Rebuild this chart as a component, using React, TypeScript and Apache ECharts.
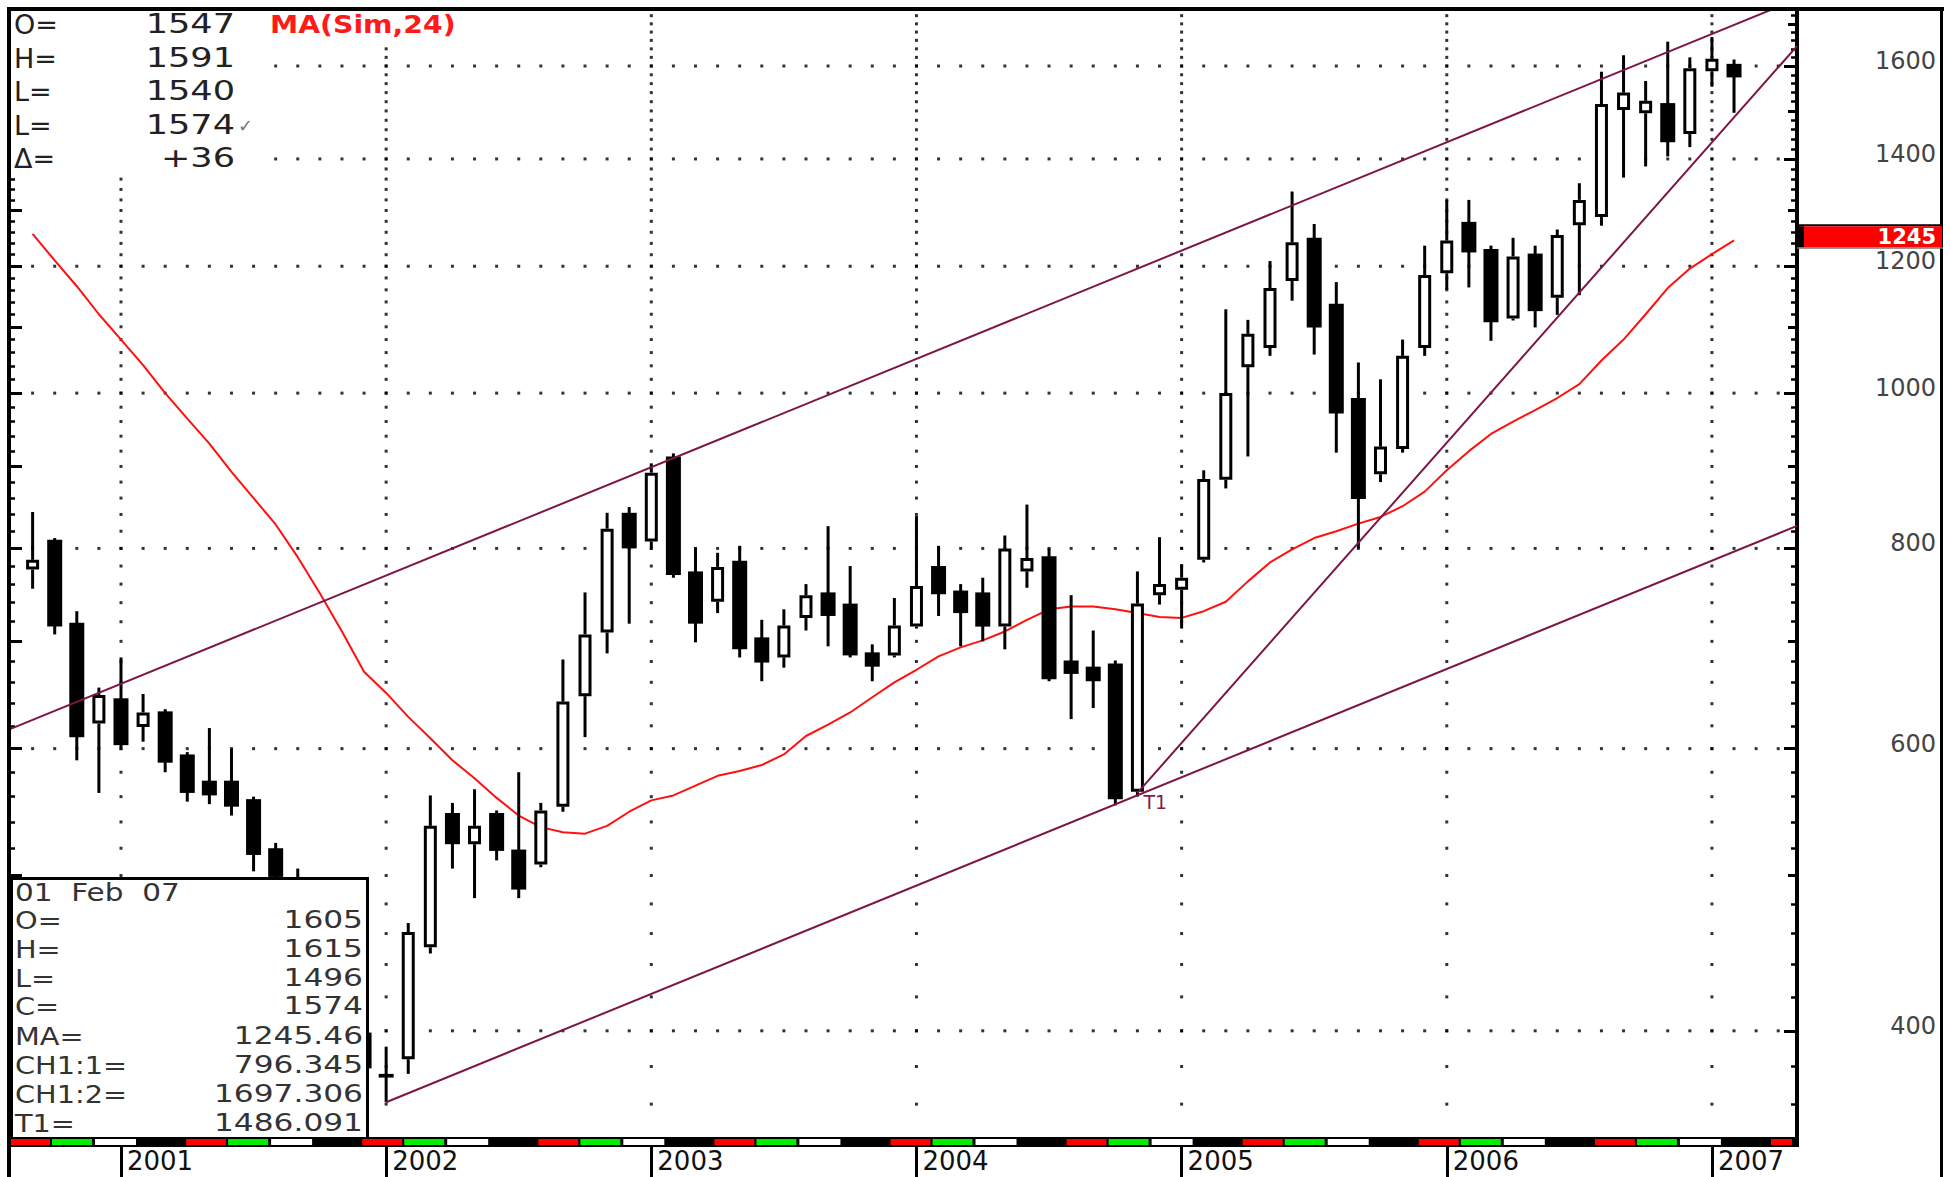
import React, { useEffect, useRef } from 'react';
import * as echarts from 'echarts';

// ---------- DATA ----------
const months = [
  'Sep 00', 'Oct 00', 'Nov 00', 'Dec 00',
  'Jan 01', 'Feb 01', 'Mar 01', 'Apr 01', 'May 01', 'Jun 01', 'Jul 01', 'Aug 01', 'Sep 01', 'Oct 01', 'Nov 01', 'Dec 01',
  'Jan 02', 'Feb 02', 'Mar 02', 'Apr 02', 'May 02', 'Jun 02', 'Jul 02', 'Aug 02', 'Sep 02', 'Oct 02', 'Nov 02', 'Dec 02',
  'Jan 03', 'Feb 03', 'Mar 03', 'Apr 03', 'May 03', 'Jun 03', 'Jul 03', 'Aug 03', 'Sep 03', 'Oct 03', 'Nov 03', 'Dec 03',
  'Jan 04', 'Feb 04', 'Mar 04', 'Apr 04', 'May 04', 'Jun 04', 'Jul 04', 'Aug 04', 'Sep 04', 'Oct 04', 'Nov 04', 'Dec 04',
  'Jan 05', 'Feb 05', 'Mar 05', 'Apr 05', 'May 05', 'Jun 05', 'Jul 05', 'Aug 05', 'Sep 05', 'Oct 05', 'Nov 05', 'Dec 05',
  'Jan 06', 'Feb 06', 'Mar 06', 'Apr 06', 'May 06', 'Jun 06', 'Jul 06', 'Aug 06', 'Sep 06', 'Oct 06', 'Nov 06', 'Dec 06',
  'Jan 07', 'Feb 07',
];

const opens = [
  776, 810, 719, 622, 645, 619, 633, 595, 573, 573, 558, 520, 499, 455, 432, 399,
  376, 384, 451, 547, 523, 547, 519, 508, 552, 647, 709, 842,
  808, 913, 774, 741, 786, 704, 684, 724, 751, 739, 689, 686,
  715, 780, 753, 751, 715, 774, 791, 681, 675, 678, 564, 748,
  754, 787, 883, 1038, 1067, 1175, 1250, 1137, 993, 890, 923, 1067,
  1188, 1279, 1230, 1113, 1222, 1147, 1273, 1288, 1502, 1495, 1517, 1451,
  1588, 1605,
];
const highs = [
  843, 812, 731, 655, 684, 649, 635, 597, 618, 600, 560, 524, 505, 470, 445, 405,
  391, 467, 561, 555, 566, 549, 580, 555, 682, 751, 842, 849,
  904, 917, 801, 795, 803, 722, 733, 760, 826, 780, 697, 745,
  838, 803, 760, 767, 815, 852, 800, 748, 711, 681, 774, 813,
  782, 895, 1128, 1111, 1209, 1336, 1275, 1173, 1045, 1020, 1080, 1236,
  1320, 1320, 1236, 1250, 1236, 1265, 1352, 1587, 1625, 1566, 1657, 1620,
  1668, 1615,
];
const lows = [
  755, 707, 590, 563, 601, 606, 580, 556, 554, 545, 503, 495, 430, 420, 395, 372,
  361, 376, 447, 505, 484, 511, 484, 506, 548, 610, 688, 718,
  801, 767, 699, 729, 684, 661, 674, 711, 695, 684, 661, 684,
  713, 726, 695, 700, 692, 756, 661, 626, 636, 553, 560, 738,
  713, 784, 872, 913, 1055, 1142, 1057, 918, 800, 880, 918, 1055,
  1160, 1164, 1078, 1110, 1099, 1119, 1151, 1272, 1363, 1385, 1405, 1424,
  1553, 1496,
];
const closes = [
  787, 715, 610, 648, 603, 632, 588, 563, 561, 552, 515, 499, 455, 432, 400, 379,
  374, 461, 537, 523, 537, 518, 490, 549, 642, 707, 823, 800,
  892, 770, 718, 779, 692, 679, 716, 748, 726, 686, 675, 716,
  758, 749, 729, 715, 800, 789, 663, 668, 661, 558, 739, 760,
  767, 884, 1000, 1089, 1163, 1242, 1099, 971, 859, 926, 1055, 1185,
  1245, 1224, 1107, 1217, 1125, 1255, 1320, 1515, 1540, 1522, 1434, 1595,
  1617, 1574,
];
const ma24 = [
  1257, 1210, 1166, 1120, 1080, 1041, 1000, 964, 930, 893,
  860, 828, 790, 750, 710, 670, 650, 628, 609, 590,
  575, 559, 545, 536, 532, 531, 537, 548, 557, 561,
  569, 577, 581, 586, 595, 611, 621, 632, 646, 660,
  672, 685, 694, 701, 710, 722, 733, 736, 736, 733,
  729, 725, 724, 731, 741, 763, 784, 799, 812, 820,
  829, 837, 850, 868, 895, 920, 943, 960, 976, 993,
  1013, 1048, 1080, 1120, 1163, 1196, 1221, 1245.46,
];

const yearLabels = ['2001', '2002', '2003', '2004', '2005', '2006', '2007'];
const yearStartIndex = [4, 16, 28, 40, 52, 64, 76];
const priceLabels = [400, 600, 800, 1000, 1200, 1400, 1600];
const priceMidTicks = [500, 700, 900, 1100, 1300, 1500, 1700];

// channel / trend anchors: [monthIndex, value]
const ch1LineStart = [16, 361];
const ch1Line1End = [77, 796.345];
const ch1Line2End = [77, 1697.306];
const t1Start = [50, 563];
const t1End = [77, 1486.091];

const headerLabels = ['O=', 'H=', 'L=', 'L=', '\u0394='];
const headerValues = ['1547', '1591', '1540', '1574', '+36'];
const boxTitle = '01  Feb  07';
const boxLabels = ['O=', 'H=', 'L=', 'C=', 'MA=', 'CH1:1=', 'CH1:2=', 'T1='];
const boxValues = ['1605', '1615', '1496', '1574', '1245.46', '796.345', '1697.306', '1486.091'];

// ---------- HELPERS ----------
const LN = Math.log;
const X_MIN = -1.023;
const X_MAX = 79.85;
const Y_MIN = 343.4;
const Y_MAX = 1734.1;
const FONT = '"DejaVu Sans", "Liberation Sans", sans-serif';

function extendLine(p1: number[], p2: number[], xs: number[]) {
  const s = (LN(p2[1]) - LN(p1[1])) / (p2[0] - p1[0]);
  return xs.map((x) => [x, LN(p2[1]) + s * (x - p2[0])]);
}

function txt(text: string, x: number, y: number, o: any = {}) {
  return {
    type: 'text',
    x,
    y,
    z: 110,
    silent: true,
    scaleX: o.scaleX ?? 1,
    style: {
      text,
      x: 0,
      y: 0,
      fill: o.color ?? '#222',
      fontSize: o.size ?? 24,
      fontFamily: FONT,
      fontWeight: o.weight ?? 'normal',
      align: o.align ?? 'left',
      verticalAlign: 'middle',
    },
  };
}

function rect(x: number, y: number, w: number, h: number, fill: string, extra: any = {}) {
  return {
    type: 'rect',
    z: 100,
    silent: true,
    shape: { x, y, width: w, height: h },
    style: { fill, ...extra },
  };
}

function buildOption() {
  const candleData = opens.map((o, k) => [k, LN(o), LN(closes[k]), LN(lows[k]), LN(highs[k])]);
  const maData = ma24.map((v, k) => [k, LN(v)]);

  const lowerLine = [[ch1LineStart[0], LN(ch1LineStart[1])], ...extendLine(ch1LineStart, ch1Line1End, [X_MAX])];
  const upperLine = extendLine(ch1LineStart, ch1Line1End, [X_MIN, X_MAX]).map((p) => [
    p[0],
    p[1] - LN(ch1Line1End[1]) + LN(ch1Line2End[1]),
  ]);
  const t1Line = [[t1Start[0], LN(t1Start[1])], ...extendLine(t1Start, t1End, [X_MAX])];

  // dotted grid: dots every month along price rows, every 20 along year columns
  const dots: number[][] = [];
  for (let i = 0; i <= 79; i++) priceLabels.forEach((v) => dots.push([i, LN(v)]));
  yearStartIndex.forEach((i) => {
    for (let v = 360; v <= 1720; v += 20) dots.push([i, LN(v)]);
  });

  const minorTicks: number[] = [];
  for (let v = 360; v <= 1720; v += 20) if (v % 100 !== 0) minorTicks.push(LN(v));
  const hundredTicks: number[] = [];
  for (let v = 400; v <= 1700; v += 100) hundredTicks.push(LN(v));

  const yBase = (position: string) => ({
    type: 'value',
    position,
    min: LN(Y_MIN),
    max: LN(Y_MAX),
    splitLine: { show: false },
    axisLine: { show: false, onZero: false },
    axisLabel: { show: false },
  });
  const tick = (values: number[], length: number, width: number) => ({
    show: true,
    inside: true,
    length,
    customValues: values,
    lineStyle: { color: '#000', width },
  });

  return {
    animation: false,
    backgroundColor: '#ffffff',
    grid: { left: 10, right: 153, top: 10, bottom: 40, containLabel: false },
    xAxis: {
      type: 'value',
      min: X_MIN,
      max: X_MAX,
      axisLine: { show: false, onZero: false },
      splitLine: { show: false },
      axisTick: {
        show: true,
        customValues: yearStartIndex,
        length: 40,
        lineStyle: { color: '#000', width: 3 },
      },
      axisLabel: {
        show: true,
        customValues: yearStartIndex,
        formatter: (v: number) => {
          const k = yearStartIndex.indexOf(Math.round(v));
          return k >= 0 ? yearLabels[k] : '';
        },
        align: 'left',
        verticalAlign: 'top',
        margin: 11,
        padding: [0, 0, 0, 6],
        fontSize: 26,
        fontFamily: FONT,
        color: '#111',
      },
    },
    yAxis: [
      {
        ...yBase('right'),
        axisLine: { show: true, onZero: false, lineStyle: { color: '#000', width: 4 } },
        axisTick: tick(priceLabels.map(LN), 13, 3),
        axisLabel: {
          show: true,
          customValues: priceLabels.map(LN),
          formatter: (v: number) => `{t|${Math.round(Math.exp(v))}}`,
          align: 'right',
          margin: 139,
          verticalAlign: 'middle',
          fontSize: 24,
          fontFamily: FONT,
          color: '#444',
          rich: {
            t: {
              fontSize: 24,
              fontFamily: FONT,
              color: '#444',
              align: 'right',
              padding: [0, 0, 10, 0],
            },
          },
        },
      },
      { ...yBase('right'), axisTick: tick(priceMidTicks.map(LN), 9, 3) },
      { ...yBase('right'), axisTick: tick(minorTicks, 6, 2.5) },
      { ...yBase('left'), axisTick: tick(hundredTicks, 12, 3) },
      { ...yBase('left'), axisTick: tick(minorTicks, 5, 2.5) },
    ],
    series: [
      {
        type: 'scatter',
        name: 'grid',
        data: dots,
        symbol: 'rect',
        symbolSize: 3,
        itemStyle: { color: '#000' },
        silent: true,
        z: 1,
      },
      {
        type: 'line',
        name: 'MA(Sim,24)',
        data: maData,
        symbol: 'none',
        lineStyle: { color: '#ff1010', width: 2 },
        z: 2,
      },
      {
        type: 'custom',
        name: 'Price',
        data: candleData,
        encode: { x: 0, y: [1, 2, 3, 4] },
        clip: true,
        z: 3,
        renderItem: (params: any, api: any) => {
          const i = api.value(0);
          const o = api.value(1);
          const c = api.value(2);
          const l = api.value(3);
          const h = api.value(4);
          const pO = api.coord([i, o]);
          const x = pO[0];
          const yO = pO[1];
          const yC = api.coord([i, c])[1];
          const yL = api.coord([i, l])[1];
          const yH = api.coord([i, h])[1];
          const top = Math.min(yO, yC);
          const bot = Math.max(yO, yC);
          const children: any[] = [];
          if (c >= o) {
            const w = 13;
            const lw = 3;
            children.push({ type: 'line', shape: { x1: x, y1: yH, x2: x, y2: top }, style: { stroke: '#000', lineWidth: 3 } });
            children.push({ type: 'line', shape: { x1: x, y1: bot, x2: x, y2: yL }, style: { stroke: '#000', lineWidth: 3 } });
            children.push({
              type: 'rect',
              shape: { x: x - w / 2 + lw / 2, y: top + lw / 2, width: w - lw, height: Math.max(bot - top - lw, 1) },
              style: { fill: '#fff', stroke: '#000', lineWidth: lw },
            });
          } else {
            children.push({ type: 'line', shape: { x1: x, y1: yH, x2: x, y2: yL }, style: { stroke: '#000', lineWidth: 3 } });
            children.push({
              type: 'rect',
              shape: { x: x - 7.5, y: top, width: 15, height: Math.max(bot - top, 3) },
              style: { fill: '#000' },
            });
          }
          return { type: 'group', children };
        },
      },
      {
        type: 'line',
        name: 'CH1:1',
        data: lowerLine,
        symbol: 'none',
        lineStyle: { color: '#7d1646', width: 2 },
        z: 4,
      },
      {
        type: 'line',
        name: 'CH1:2',
        data: upperLine,
        symbol: 'none',
        lineStyle: { color: '#7d1646', width: 2 },
        z: 4,
      },
      {
        type: 'line',
        name: 'T1',
        data: t1Line,
        symbol: 'none',
        lineStyle: { color: '#7d1646', width: 2 },
        z: 4,
      },
    ],
  };
}

function buildGraphics(chart: any) {
  const els: any[] = [];
  // top-left readout
  els.push(rect(11, 11, 259, 164, '#fff'));
  els.push(rect(262, 11, 200, 34, '#fff'));
  const hy = [24, 58, 91, 125, 158];
  headerLabels.forEach((t, k) => els.push(txt(t, 14, hy[k], { size: 27, color: '#222' })));
  headerValues.forEach((t, k) => els.push(txt(t, 235, hy[k], { size: 27, color: '#222', align: 'right', scaleX: 1.3 })));
  els.push(txt('\u2713', 238, 125, { size: 18, color: '#777' }));
  els.push(txt('MA(Sim,24)', 270, 25, { size: 24, color: '#ff1a1a', weight: 'bold', scaleX: 1.18 }));

  // bottom-left data box
  els.push(rect(11.5, 878.5, 356, 262, '#fff', { stroke: '#000', lineWidth: 3 }));
  const by = [892, 920, 949, 978, 1006, 1036, 1065, 1094, 1123];
  els.push(txt(boxTitle, 15, by[0], { size: 25, color: '#333', scaleX: 1.18 }));
  boxLabels.forEach((t, k) => els.push(txt(t, 15, by[k + 1], { size: 25, color: '#333', scaleX: 1.15 })));
  boxValues.forEach((t, k) => els.push(txt(t, 363, by[k + 1], { size: 25, color: '#333', align: 'right', scaleX: 1.25 })));

  // colour strip along the time axis
  els.push(rect(8, 1137, 1791, 10, '#000'));
  const segs = [
    { c: '#ff0000', a: 0, b: 40 },
    { c: '#00ee00', a: 42, b: 82 },
    { c: '#ffffff', a: 85, b: 126 },
  ];
  for (let k = 0; k < 11; k++) {
    const base = 10 + 176.1 * k;
    segs.forEach((s) => {
      const x0 = base + s.a;
      const x1 = Math.min(base + s.b, 1792);
      if (x1 > x0) els.push(rect(x0, 1139, x1 - x0, 6, s.c));
    });
  }

  // outer frame
  els.push(rect(7, 7, 1937, 4, '#000'));
  els.push(rect(7, 7, 4, 1170, '#000'));
  els.push(rect(1940, 7, 3, 1170, '#000'));

  // current MA value marker on the price axis
  const maLast = ma24[ma24.length - 1];
  const yc = chart.convertToPixel({ yAxisIndex: 0 }, LN(maLast)) - 4;
  els.push(rect(1797, yc - 12, 146, 2, '#000'));
  els.push(rect(1799, yc - 10, 143, 21, '#ff0000'));
  els.push(rect(1799, yc - 10, 5, 21, '#000'));
  els.push(rect(1797, yc + 11, 146, 1.5, '#777'));
  els.push(txt(String(Math.round(maLast)), 1936, yc + 0.5, { size: 21, color: '#fff', weight: 'bold', align: 'right' }));

  // T1 label
  const p = chart.convertToPixel({ xAxisIndex: 0, yAxisIndex: 0 }, [t1Start[0], LN(t1Start[1])]);
  els.push(txt('T1', p[0] + 6, p[1] + 9, { size: 19, color: '#8b1a4a' }));

  return els;
}

export default function App() {
  const ref = useRef<HTMLDivElement>(null);
  useEffect(() => {
    if (!ref.current) return;
    const chart = echarts.init(ref.current, null, { renderer: 'svg' });
    chart.setOption(buildOption() as any);
    chart.setOption({ graphic: { elements: buildGraphics(chart) } } as any);
    return () => chart.dispose();
  }, []);
  return (
    <div
      ref={ref}
      style={{ position: 'fixed', left: 0, top: 0, width: 1950, height: 1177, background: '#fff' }}
    />
  );
}
